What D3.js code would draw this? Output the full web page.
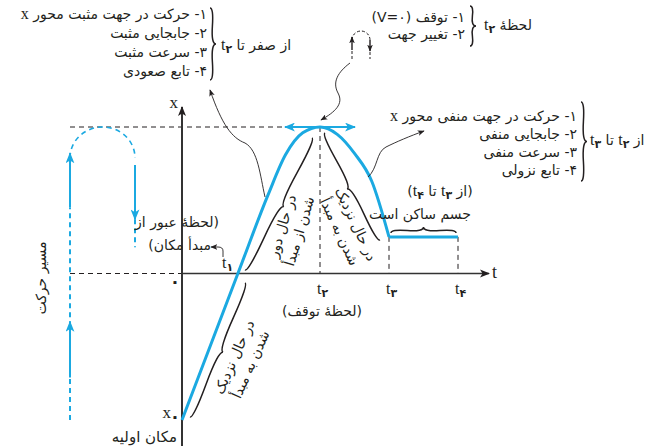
<!DOCTYPE html>
<html>
<head>
<meta charset="utf-8">
<script src="https://cdn.jsdelivr.net/npm/d3@7"></script>
<style>
  body { margin: 0; background: #fff; }
  svg { display: block; }
  text { font-family: "DejaVu Sans"; fill: #231f20; }
</style>
</head>
<body>
<svg id="chart" width="669" height="446"></svg>
<script>
// --- donnees (t, x) ---
var curveT = [0, 1.62, 2.5, 3.0, 3.5, 4.0, 4.5, 5.0, 5.5, 6.0];
var curveX = [-10, 0, 5.4, 8.1, 9.6, 10, 9.5, 8.2, 6.3, 2.5];
var restT = [6, 8];
var restX = [2.5, 2.5];
var tickT = [1.62, 4, 6, 8];
var tickDigits = ["۱", "۲", "۳", "۴"];
var xMax = 10, x0 = -10, xRest = 2.5;

var blue = "#1ba9e1", ink = "#231f20";
var FS = 14;
var svg = d3.select("#chart");

var tS = d3.scaleLinear().domain([0, 8]).range([182, 458]);
var xS = d3.scaleLinear().domain([-10, 10]).range([420, 127]);

/* fleches */
var defs = svg.append("defs");
function marker(id, color, w, h) {
  defs.append("marker").attr("id", id)
    .attr("viewBox", "0 0 10 8").attr("refX", 9).attr("refY", 4)
    .attr("markerWidth", w).attr("markerHeight", h)
    .attr("markerUnits", "userSpaceOnUse").attr("orient", "auto-start-reverse")
    .append("path").attr("d", "M0,0 L10,4 L0,8 L2.5,4 Z").attr("fill", color);
}
marker("ahBlack", ink, 10, 9);
marker("ahBlue", blue, 11, 9);
marker("ahThin", ink, 7, 6);

/* accolade entre p1 et p2, pointe a (dy,-dx) */
function brace(x1, y1, x2, y2, w, q) {
  var dx = x1 - x2, dy = y1 - y2, len = Math.sqrt(dx * dx + dy * dy);
  dx /= len; dy /= len;
  var qx1 = x1 + q * w * dy, qy1 = y1 - q * w * dx;
  var qx2 = (x1 - .25 * len * dx) + (1 - q) * w * dy, qy2 = (y1 - .25 * len * dy) - (1 - q) * w * dx;
  var tx1 = (x1 - .5 * len * dx) + w * dy, ty1 = (y1 - .5 * len * dy) - w * dx;
  var qx3 = x2 + q * w * dy, qy3 = y2 - q * w * dx;
  var qx4 = (x1 - .75 * len * dx) + (1 - q) * w * dy, qy4 = (y1 - .75 * len * dy) - (1 - q) * w * dx;
  svg.append("path")
    .attr("d", "M" + x1 + "," + y1 + " Q" + qx1 + "," + qy1 + " " + qx2 + "," + qy2 + " T" + tx1 + "," + ty1 +
      " M" + x2 + "," + y2 + " Q" + qx3 + "," + qy3 + " " + qx4 + "," + qy4 + " T" + tx1 + "," + ty1)
    .attr("fill", "none").attr("stroke", ink).attr("stroke-width", 1.5);
}

/* texte persan, avec morceaux latins et indices */
function label(parent, x, y, parts, o) {
  o = o || {};
  var t = parent.append("text").attr("x", x).attr("y", y)
    .attr("direction", o.dir || "rtl")
    .attr("text-anchor", o.anchor || "start")
    .style("font-size", (o.size || FS) + "px");
  if (o.bold) t.style("font-weight", "bold");
  parts.forEach(function (p) {
    if (typeof p === "string") t.append("tspan").text(p);
    else if (p.v) t.append("tspan").style("font-family", "Liberation Serif").style("font-size", (p.size || 16) + "px").text(p.v);
    else if (p.sub) t.append("tspan").style("font-size", "11px").style("font-weight", "bold").attr("baseline-shift", "-3").text(p.sub);
  });
  return t;
}

function dashed(x1, y1, x2, y2) {
  svg.append("line").attr("x1", x1).attr("y1", y1).attr("x2", x2).attr("y2", y2)
    .attr("stroke", ink).attr("stroke-width", 1).attr("stroke-dasharray", "5,4");
}

/* lignes pointillees de repere */
dashed(70, xS(xMax), tS(4), xS(xMax));
dashed(70, xS(0), tS(0), xS(0));
dashed(tS(4), xS(xMax), tS(4), xS(0));
dashed(tS(6), xS(xRest), tS(6), xS(0));
dashed(tS(8), xS(xRest), tS(8), xS(0));

/* axes */
svg.append("line").attr("x1", tS(0)).attr("y1", 446).attr("x2", tS(0)).attr("y2", 107)
  .attr("stroke", "#333").attr("stroke-width", 2).attr("marker-end", "url(#ahBlack)");
svg.append("line").attr("x1", tS(0)).attr("y1", xS(0)).attr("x2", 489).attr("y2", xS(0))
  .attr("stroke", "#333").attr("stroke-width", 1.5).attr("marker-end", "url(#ahBlack)");
label(svg, 178, 108, [{ v: "x", size: 17 }], { dir: "ltr", anchor: "end" });
label(svg, 492, 278, [{ v: "t", size: 18 }], { dir: "ltr", anchor: "start" });

/* courbe position-temps */
var pts = curveT.map(function (t, i) { return [tS(t), xS(curveX[i])]; });
svg.append("path").attr("d", d3.line().curve(d3.curveMonotoneX)(pts))
  .attr("fill", "none").attr("stroke", blue).attr("stroke-width", 3);
var rest = restT.map(function (t, i) { return [tS(t), xS(restX[i])]; });
svg.append("path").attr("d", d3.line()(rest))
  .attr("fill", "none").attr("stroke", blue).attr("stroke-width", 3);

/* double fleche au sommet */
svg.append("line").attr("x1", tS(4) - 35).attr("y1", xS(xMax)).attr("x2", tS(4) + 35).attr("y2", xS(xMax))
  .attr("stroke", blue).attr("stroke-width", 2)
  .attr("marker-start", "url(#ahBlue)").attr("marker-end", "url(#ahBlue)");

/* etiquettes t */
label(svg, 222, 268, [{ v: "t" }, { sub: tickDigits[0] }], { dir: "ltr", anchor: "start" });
tickT.slice(1).forEach(function (t, i) {
  label(svg, tS(t) - 3, 294, [{ v: "t" }, { sub: tickDigits[i + 1] }], { dir: "ltr", anchor: "start" });
});
label(svg, 175, 287, ["۰"], { dir: "ltr", anchor: "middle", size: 17, bold: true });
label(svg, 171, 418, [{ v: "x", size: 17 }], { dir: "ltr", anchor: "end" });
label(svg, 175, 422, ["۰"], { dir: "ltr", anchor: "middle", size: 17, bold: true });
label(svg, 177, 442, ["مکان اولیه"], { size: 15 });
label(svg, tS(4) + 2, 316, ["(لحظهٔ توقف)"], { anchor: "middle" });

/* chemin du mouvement a gauche */
var gx = 70, dx2 = 135;
function bseg(x1, y1, x2, y2, dash, arrow) {
  var l = svg.append("line").attr("x1", x1).attr("y1", y1).attr("x2", x2).attr("y2", y2)
    .attr("stroke", blue).attr("stroke-width", 2);
  if (dash) l.attr("stroke-dasharray", "5,4");
  if (arrow) l.attr("marker-end", "url(#ahBlue)");
}
bseg(gx, xS(-10), gx, xS(-7.1), true);
bseg(gx, xS(-7.1), gx, xS(-3.3), false, true);
bseg(gx, xS(-3.6), gx, xS(4.5), true);
bseg(gx, xS(4.5), gx, xS(8.2), false, true);
svg.append("path")
  .attr("d", "M" + gx + "," + xS(7.9) + " A" + (dx2 - gx) / 2 + "," + (xS(7.9) - xS(xMax)) + " 0 0 1 " + dx2 + "," + xS(7.9))
  .attr("fill", "none").attr("stroke", blue).attr("stroke-width", 1.6).attr("stroke-dasharray", "5,4");
bseg(dx2, xS(7.4), dx2, xS(3.7), false, true);
bseg(dx2, xS(3.7), dx2, xS(1.8), true);
label(svg, 46, 278, ["مسیر حرکت"], { anchor: "middle" }).attr("transform", "rotate(-90,46,278)");

/* lignes fines d'annotation */
function thin(d) {
  svg.append("path").attr("d", d).attr("fill", "none").attr("stroke", ink)
    .attr("stroke-width", 0.9).attr("marker-end", "url(#ahThin)");
}
thin("M265,197 C260,175 258,150 245,143 C232,138 222,125 210,90");
thin("M350,63 C338,72 332,82 338,93 C344,104 335,112 321,120");
thin("M368,177 C378,168 376,152 386,147 C396,142 410,136 424,131");
thin("M223,257 L223,251 Q223,247 218,247 L211,247");

/* petite icone demi-tour */
svg.append("line").attr("x1", 352).attr("y1", 59).attr("x2", 352).attr("y2", 50).attr("stroke", ink).attr("stroke-dasharray", "3,2");
svg.append("line").attr("x1", 352).attr("y1", 50).attr("x2", 352).attr("y2", 37).attr("stroke", ink).attr("stroke-width", 1.4).attr("marker-end", "url(#ahThin)");
svg.append("path").attr("d", "M352,40 A9,9 0 0 1 370,40").attr("fill", "none").attr("stroke", ink).attr("stroke-dasharray", "3,2");
svg.append("line").attr("x1", 370).attr("y1", 40).attr("x2", 370).attr("y2", 51).attr("stroke", ink).attr("stroke-width", 1.4).attr("marker-end", "url(#ahThin)");
svg.append("line").attr("x1", 370).attr("y1", 52).attr("x2", 370).attr("y2", 59).attr("stroke", ink).attr("stroke-dasharray", "3,2");

/* accolades */
brace(210, 80, 210, 8, 6, 0.6);
brace(470, 46, 470, 6, 6, 0.6);
brace(581, 181, 581, 102, 6, 0.6);
brace(245, 270, 312, 138, 6, 0.6);
brace(325, 133, 380, 240, 6, 0.6);
brace(190, 417, 245, 283, 6, 0.6);
brace(tS(8) - 2, xS(xRest) - 4, tS(6) + 2, xS(xRest) - 4, 6, 0.6);

/* textes du haut */
label(svg, 207, 19, ["۱- حرکت در جهت مثبت محور ", { v: "x" }]);
label(svg, 207, 38, ["۲- جابجایی مثبت"]);
label(svg, 207, 57, ["۳- سرعت مثبت"]);
label(svg, 207, 76, ["۴- تابع صعودی"]);
label(svg, 221, 50, ["از صفر تا ", { v: "t" }, { sub: "۲" }], { anchor: "end" });

label(svg, 465, 22, ["۱- توقف (V=۰)"]);
label(svg, 465, 39, ["۲- تغییر جهت"]);
label(svg, 484, 30, ["لحظهٔ ", { v: "t" }, { sub: "۲" }], { anchor: "end" });

label(svg, 577, 121, ["۱- حرکت در جهت منفی محور ", { v: "x" }]);
label(svg, 577, 139, ["۲- جابجایی منفی"]);
label(svg, 577, 157, ["۳- سرعت منفی"]);
label(svg, 577, 175, ["۴- تابع نزولی"]);
label(svg, 590, 145, ["از ", { v: "t" }, { sub: "۲" }, " تا ", { v: "t" }, { sub: "۳" }], { anchor: "end" });

label(svg, 219, 227, ["(لحظهٔ عبور از"]);
label(svg, 211, 250, ["مبدأ مکان)"]);

label(svg, 440, 196, ["(از ", { v: "t" }, { sub: "۳" }, " تا ", { v: "t" }, { sub: "۴" }, ")"], { anchor: "middle" });
label(svg, 420, 219, ["جسم ساکن است"], { anchor: "middle" });

/* textes inclines le long de la courbe */
function slanted(cx, cy, ang, l1, l2) {
  var g = svg.append("g").attr("transform", "translate(" + cx + "," + cy + ") rotate(" + ang + ")");
  label(g, 0, 5, [l1], { anchor: "middle" });
  label(g, 0, 23, [l2], { anchor: "middle" });
}
slanted(282, 226, -73, "در حال دور", "شدن از مبدأ");
slanted(356, 224, 65, "در حال نزدیک", "شدن به مبدأ");
slanted(234, 357, -66, "در حال نزدیک", "شدن به مبدأ");
</script>
</body>
</html>
